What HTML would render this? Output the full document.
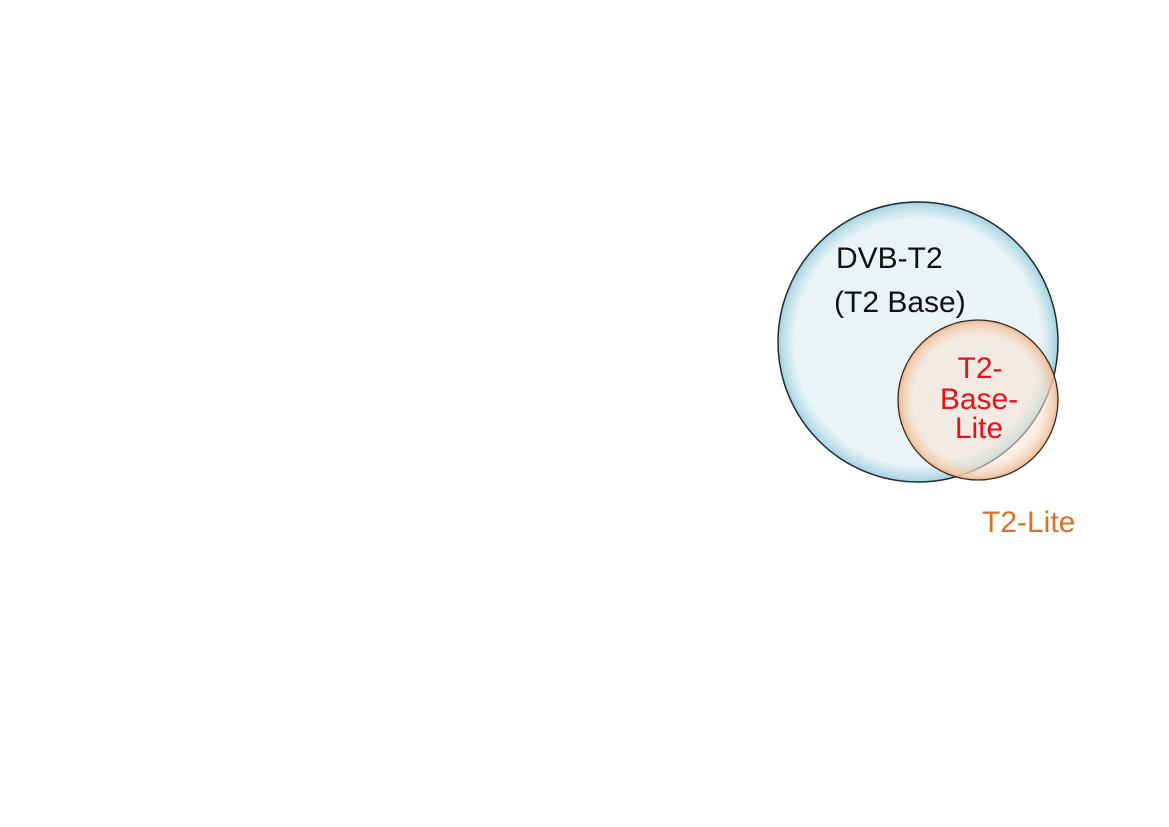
<!DOCTYPE html>
<html><head><style>
body{margin:0;background:#fff;width:1169px;height:827px;overflow:hidden}
svg{position:absolute;left:0;top:0}
text{font-family:"Liberation Sans",Arial,sans-serif}
</style></head><body>
<svg width="1169" height="827" viewBox="0 0 1169 827">
<defs>
<radialGradient id="b" cx="50%" cy="50%" r="50%">
<stop offset="0.88" stop-color="#eaf4f7"/>
<stop offset="0.97" stop-color="#b9dde8"/>
<stop offset="1" stop-color="#9fcfdf"/>
</radialGradient>
<radialGradient id="o" cx="50%" cy="50%" r="50%">
<stop offset="0.8" stop-color="#f7e2d2" stop-opacity="0.55"/>
<stop offset="0.95" stop-color="#f2c8a6" stop-opacity="0.85"/>
<stop offset="1" stop-color="#e9b088" stop-opacity="0.95"/>
</radialGradient>
</defs>
<circle cx="918" cy="342" r="140" fill="url(#b)" stroke="#1f2b30" stroke-width="1.5"/>
<circle cx="978" cy="400" r="80" fill="url(#o)" stroke="#3a2a20" stroke-width="1.3"/>
<text x="836" y="268" font-size="30" fill="#111">DVB-T2</text>
<text x="834" y="312" font-size="30" fill="#111">(T2 Base)</text>
<g fill="#e8101a" font-size="30" text-anchor="middle">
<text x="980" y="378">T2-</text>
<text x="979" y="409">Base-</text>
<text x="979" y="438">Lite</text>
</g>
<text x="982" y="532" font-size="30" fill="#e07020">T2-Lite</text>
</svg>
</body></html>
